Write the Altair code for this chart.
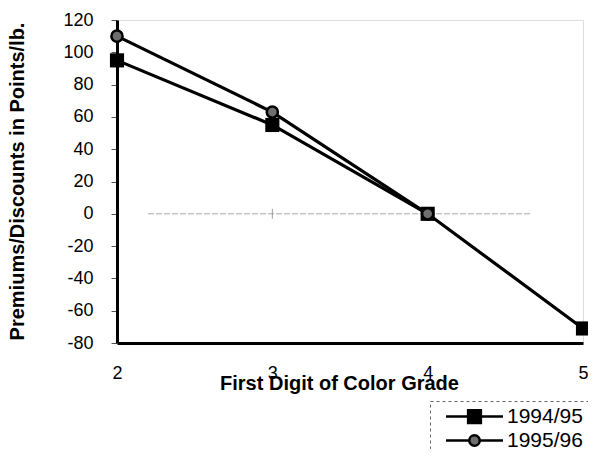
import altair as alt
import pandas as pd

grades = [2, 3, 4, 5]
s1_name = "1994/95"
s1_values = [95, 55, 0, -71]
s2_name = "1995/96"
s2_values = [110, 63, 0]  # no value for grade 5
zero_line_from = [2.2]
zero_line_to = [4.67]
zero_ticks = [3, 4]
y_ticks = [-80, -60, -40, -20, 0, 20, 40, 60, 80, 100, 120]

rows = []
for g, v in zip(grades, s1_values):
    rows.append({"grade": g, "value": v, "series": s1_name})
for g, v in zip(grades, s2_values):
    rows.append({"grade": g, "value": v, "series": s2_name})
df = pd.DataFrame(rows)
df1 = df[df.series == s1_name]
df2 = df[df.series == s2_name]

zero_df = pd.DataFrame({"x": zero_line_from, "x2": zero_line_to, "y": [0]})
tick_df = pd.DataFrame({"x": zero_ticks, "y": [0] * len(zero_ticks)})

FONT = "Liberation Sans"

xs = alt.Scale(domain=[2, 5], nice=False, zero=False)
ys = alt.Scale(domain=[-80, 120], nice=False, zero=False)

x_axis = alt.Axis(
    values=grades, title="First Digit of Color Grade", labelExpr="''+datum.value",
    ticks=False, labelPadding=21, labelFontSize=18, labelFlush=False, labelOverlap=False,
    domainColor="black", domainWidth=3, grid=False,
    titleFontSize=20, titleFontWeight="bold", titleX=222, titleY=30,
    titleBaseline="top", titleAnchor="middle",
)
y_axis = alt.Axis(
    values=y_ticks, title="Premiums/Discounts in Points/lb.", labelExpr="''+datum.value",
    tickSize=6, tickColor="#555", labelPadding=18, labelFontSize=18, labelFlush=False,
    labelOverlap=False,
    domainColor="black", domainWidth=3, grid=False,
    titleFontSize=20, titleFontWeight="bold", titleX=-100, titleY=161,
    titleBaseline="middle", titleAngle=-90, titleAlign="center",
)


def X(field):
    return alt.X(field, type="quantitative", scale=xs, axis=x_axis)


def Y(field):
    return alt.Y(field, type="quantitative", scale=ys, axis=y_axis)


zero_rule = alt.Chart(zero_df).mark_rule(color="#a8a8a8", strokeWidth=1, strokeDash=[6, 2]).encode(
    x=X("x"), x2="x2:Q", y=Y("y"),
)
zero_tick = alt.Chart(tick_df).mark_tick(color="#777", thickness=1, size=10, orient="vertical").encode(
    x=X("x"), y=Y("y")
)

line1 = alt.Chart(df1).mark_line(color="black", strokeWidth=3.2).encode(x=X("grade"), y=Y("value"))
pts1 = alt.Chart(df1).mark_point(shape="square", filled=True, color="black", size=200, opacity=1).encode(
    x=X("grade"), y=Y("value")
)
line2 = alt.Chart(df2).mark_line(color="black", strokeWidth=3.2).encode(x=X("grade"), y=Y("value"))
pts2 = alt.Chart(df2).mark_point(shape="circle", fill="#6e6e6e", stroke="black", strokeWidth=2.5,
                                  size=125, opacity=1, fillOpacity=1).encode(
    x=X("grade"), y=Y("value")
)

# legend symbols: line from -1 to 6.6 units, marker centred at 2.8 units
sq_path = "M-1,0H1.95M3.65,0H6.6M1.95,-0.85H3.65V0.85H1.95Z"
ci_path = "M-1,0H2.1M3.5,0H6.6M2.1,0A0.7,0.7,0,1,0,3.5,0A0.7,0.7,0,1,0,2.1,0Z"

legend = alt.Legend(
    title=None, orient="none", legendX=313, legendY=381,
    labelFontSize=21, labelFont=FONT, labelColor="black", labelOffset=43,
    symbolSize=225, symbolOffset=8, symbolStrokeColor="black", symbolStrokeWidth=2.5,
    symbolOpacity=1, rowPadding=1, padding=5,
    strokeColor="#666",
)
dom = [s1_name, s2_name]
legend_layer = alt.Chart(df).mark_point(opacity=0, size=0).encode(
    x=X("grade"), y=Y("value"),
    shape=alt.Shape("series:N", scale=alt.Scale(domain=dom, range=[sq_path, ci_path]), legend=legend),
    fill=alt.Fill("series:N", scale=alt.Scale(domain=dom, range=["black", "#6e6e6e"]), legend=legend),
    stroke=alt.Stroke("series:N", scale=alt.Scale(domain=dom, range=["black", "black"]), legend=legend),
)

chart = alt.layer(zero_rule, zero_tick, line1, pts1, line2, pts2, legend_layer).properties(
    width=466, height=323,
    autosize=alt.AutoSizeParams(type="none"),
    padding={"left": 109, "top": 12, "right": 5, "bottom": 106},
).configure_view(stroke="black", strokeWidth=2).configure(
    font=FONT, background="white"
).configure_axis(labelColor="black", titleColor="black", labelFont=FONT, titleFont=FONT,
                 labelOverlap=False
).configure_legend(strokeDash=[3, 3], strokeWidth=1)

chart.save("out.html", embed_options={"renderer": "svg", "actions": False})
